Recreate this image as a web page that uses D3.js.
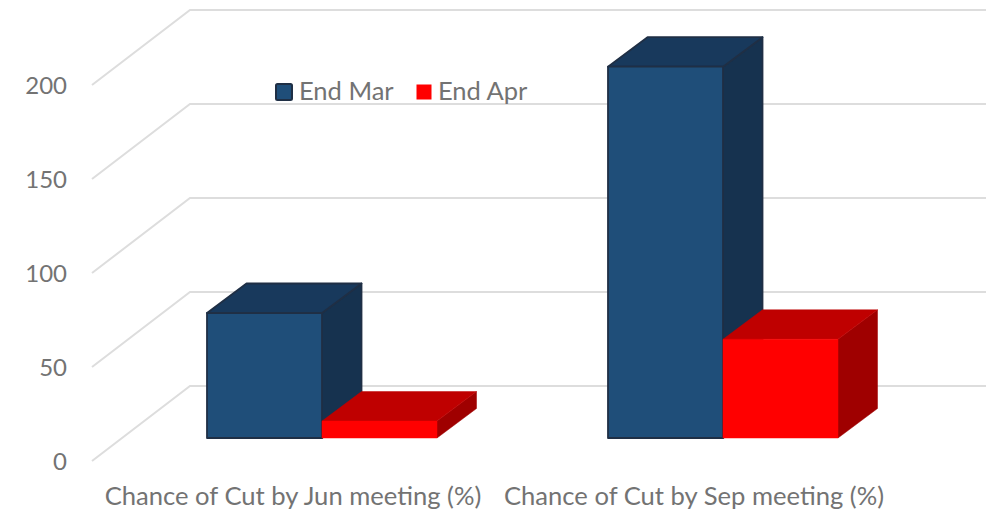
<!DOCTYPE html>
<html>
<head>
<meta charset="utf-8">
<script src="https://cdn.jsdelivr.net/npm/d3@7"></script>
<style>
html,body{margin:0;padding:0;background:#fff;overflow:hidden}
svg{display:block}
text{font-family:Lato,"Open Sans",sans-serif;fill:#737373}
</style>
</head>
<body>
<svg id="c" width="986" height="510"></svg>
<script>
const categories = ["Chance of Cut by Jun meeting (%)", "Chance of Cut by Sep meeting (%)"];
const seriesNames = ["End Mar", "End Apr"];
const endMar = [66.5, 197.5];
const endApr = [9, 52.5];
const tickValues = [0, 50, 100, 150, 200];
const seriesColors = [
  {front:"#1f4e79", top:"#18395c", side:"#16324f", stroke:"#1f2f45"},
  {front:"#ff0000", top:"#bf0000", side:"#9f0000", stroke:"none"}
];

const svg = d3.select("#c");
const y = d3.scaleLinear().domain([0, 200]).range([461, 85]);
const x = d3.scaleBand().domain(categories).range([93, 895]);
const inner = d3.scaleBand().domain(seriesNames).range([-115.5, 114.5]);

// depth of the floor/wall and of the bars
const wall = {dx: 98, dy: -75};
const barBase = {dx: 29, dy: -23};
const barDepth = {dx: 39.5, dy: -29.5};

// gridlines: side wall + back wall
svg.append("g").selectAll("path").data(tickValues).join("path")
  .attr("fill", "none").attr("stroke", "#dddddd").attr("stroke-width", 2)
  .attr("d", v => d3.line()([
    [x.range()[0] - 1, y(v)],
    [x.range()[0] - 1 + wall.dx, y(v) + wall.dy],
    [986, y(v) + wall.dy]
  ]));

// value axis
const yAxis = svg.append("g").attr("transform", "translate(67,0.5)")
  .call(d3.axisLeft(y).tickValues(tickValues).tickSize(0).tickPadding(0));
yAxis.select(".domain").remove();
yAxis.selectAll("text").attr("font-size", 24).style("font-family", 'Lato,"Open Sans",sans-serif').attr("fill", "#737373");

// category labels
svg.append("g").selectAll("text").data(categories).join("text")
  .attr("x", d => x(d) + x.bandwidth() / 2 - 0.5)
  .attr("y", 505)
  .attr("text-anchor", "middle")
  .attr("font-size", 25.6)
  .text(d => d);

// 3D bars
const seriesValues = [endMar, endApr];
seriesNames.forEach((name, s) => {
  const col = seriesColors[s];
  const g = svg.append("g");
  categories.forEach((cat, i) => {
    const v = seriesValues[s][i];
    const cx = x(cat) + x.bandwidth() / 2 + barBase.dx;
    const x0 = cx + inner(name), x1 = x0 + inner.bandwidth();
    const yb = y(0) + barBase.dy, yt = y(v) + barBase.dy;
    const dx = barDepth.dx, dy = barDepth.dy;
    const poly = (pts, fill) => g.append("path")
      .attr("d", d3.line()(pts) + "Z")
      .attr("fill", fill)
      .attr("stroke", col.stroke === "none" ? fill : col.stroke)
      .attr("stroke-width", col.stroke === "none" ? 0.5 : 1.8)
      .attr("stroke-linejoin", "round");
    poly([[x1, yt], [x1 + dx, yt + dy], [x1 + dx, yb + dy], [x1, yb]], col.side);
    poly([[x0, yt], [x0 + dx, yt + dy], [x1 + dx, yt + dy], [x1, yt]], col.top);
    poly([[x0, yt], [x1, yt], [x1, yb], [x0, yb]], col.front);
  });
});

// legend
const legendX = d3.scaleOrdinal().domain(seriesNames).range([275, 415]);
const legend = svg.append("g").selectAll("g").data(seriesNames).join("g")
  .attr("transform", d => `translate(${legendX(d)},83)`);
legend.append("rect")
  .attr("x", (d, i) => i ? 1.5 : 1)
  .attr("y", (d, i) => i ? 1.5 : 1)
  .attr("width", (d, i) => i ? 15 : 16)
  .attr("height", (d, i) => i ? 15 : 16)
  .attr("rx", (d, i) => i ? 0 : 1.5)
  .attr("fill", (d, i) => seriesColors[i].front)
  .attr("stroke", (d, i) => seriesColors[i].stroke)
  .attr("stroke-width", 2);
legend.append("text")
  .attr("x", (d, i) => i ? 23 : 24)
  .attr("y", 17)
  .attr("font-size", 25.5)
  .text(d => d);
</script>
</body>
</html>
